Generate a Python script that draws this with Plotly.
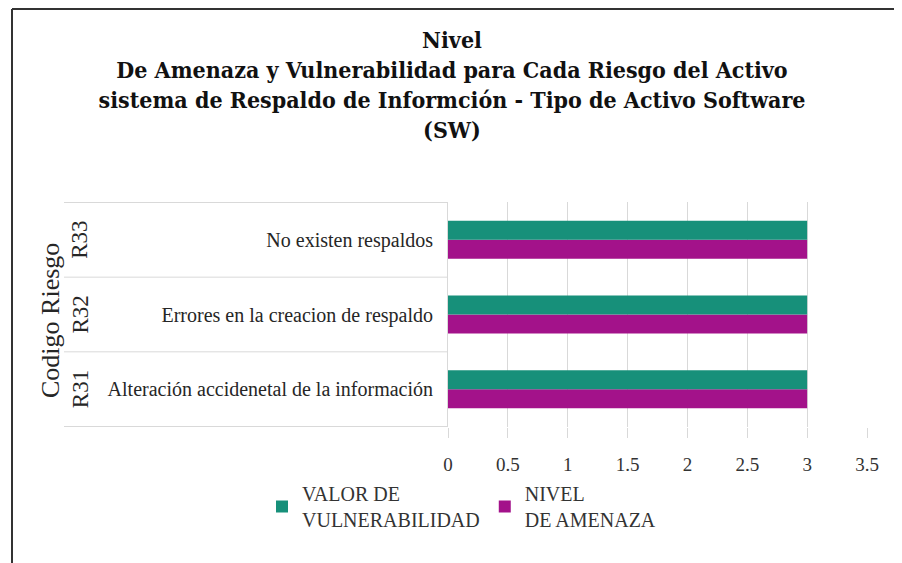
import plotly.graph_objects as go

codes = ["R31", "R32", "R33"]
riesgos = ["Alteración accidenetal de la información",
           "Errores en la creacion de respaldo",
           "No existen respaldos"]
valor_vulnerabilidad = [3, 3, 3]
nivel_amenaza = [3, 3, 3]
x_ticks = [0, 0.5, 1, 1.5, 2, 2.5, 3, 3.5]

TEAL = "#17907A"
MAGENTA = "#A3128A"
FONT = "Liberation Serif"
GRID = "#D9D9D9"

OFF = 8  # page body margin
W, H = 902, 563
L = 448 - OFF
T = 202 - OFF
R = W - (867 - OFF)
B = H - (427 - OFF)
pw, ph = W - L - R, H - T - B

def px(xpix):
    return (xpix - OFF - L) / pw

def py(ypix):
    return (T + ph - (ypix - OFF)) / ph

fig = go.Figure()
fig.add_trace(go.Bar(y=riesgos, x=nivel_amenaza, orientation="h",
                     name="NIVEL<br>DE AMENAZA", marker_color=MAGENTA,
                     marker_line_width=0, legendrank=2))
fig.add_trace(go.Bar(y=riesgos, x=valor_vulnerabilidad, orientation="h",
                     name="VALOR DE<br>VULNERABILIDAD", marker_color=TEAL,
                     marker_line_width=0, legendrank=1))

fig.update_layout(
    width=W, height=H,
    margin=dict(l=L, r=R, t=T, b=B),
    paper_bgcolor="white", plot_bgcolor="white",
    barmode="group", bargap=0.49, bargroupgap=0,
    font=dict(family=FONT, color="#262626"),
    title=dict(
        text="Nivel<br>De Amenaza y Vulnerabilidad para Cada Riesgo del Activo<br>"
             "sistema de Respaldo de Informción - Tipo de Activo Software<br>(SW)",
        font=dict(family="DejaVu Serif Condensed", size=23,
                  weight="bold", color="#111111"),
        x=(452 - OFF) / W, xanchor="center", xref="container",
        y=1 - 40 / H, yanchor="top", yref="container"),
    xaxis=dict(range=[0, 3.5], tickvals=x_ticks, ticktext=[str(v) for v in x_ticks],
               showgrid=True, gridcolor=GRID, gridwidth=1, zeroline=False,
               showline=False, ticks="outside", ticklen=10, tickcolor=GRID,
               ticklabelstandoff=10,
               tickfont=dict(family=FONT, size=19, color="#333333")),
    yaxis=dict(categoryorder="array", categoryarray=riesgos,
               showgrid=False, zeroline=False, showline=True, linecolor=GRID,
               ticks="", ticklabelstandoff=10,
               tickfont=dict(family=FONT, size=20, color="#262626")),
    legend=dict(orientation="h", x=px(262), xanchor="left", y=py(474), yanchor="top",
                font=dict(family=FONT, size=20, color="#333333"),
                traceorder="normal", itemwidth=30),
    showlegend=True,
)

shapes = []
for b in [-0.5, 0.5, 1.5, 2.5]:
    shapes.append(dict(type="line", xref="paper", yref="y", x0=px(64), x1=0,
                       y0=b, y1=b, line=dict(color=GRID, width=1)))
# outer frame (top and left edges)
shapes.append(dict(type="line", xref="paper", yref="paper", x0=px(12), x1=px(915),
                   y0=py(9), y1=py(9), line=dict(color="#333333", width=2)))
shapes.append(dict(type="line", xref="paper", yref="paper", x0=px(12), x1=px(12),
                   y0=py(9), y1=py(580), line=dict(color="#333333", width=2)))
fig.update_layout(shapes=shapes)

annotations = []
for c, r in zip(codes, riesgos):
    annotations.append(dict(text=c, xref="paper", yref="y", x=px(80), y=r,
                            xanchor="center", yanchor="middle",
                            showarrow=False, textangle=-90,
                            font=dict(family=FONT, size=23, color="#262626")))
annotations.append(dict(text="Codigo Riesgo", xref="paper", yref="paper",
                        x=px(50), y=py(321), xanchor="center", yanchor="middle",
                        showarrow=False, textangle=-90,
                        font=dict(family=FONT, size=26, color="#262626")))
fig.update_layout(annotations=annotations)

fig.write_html("out.html")
